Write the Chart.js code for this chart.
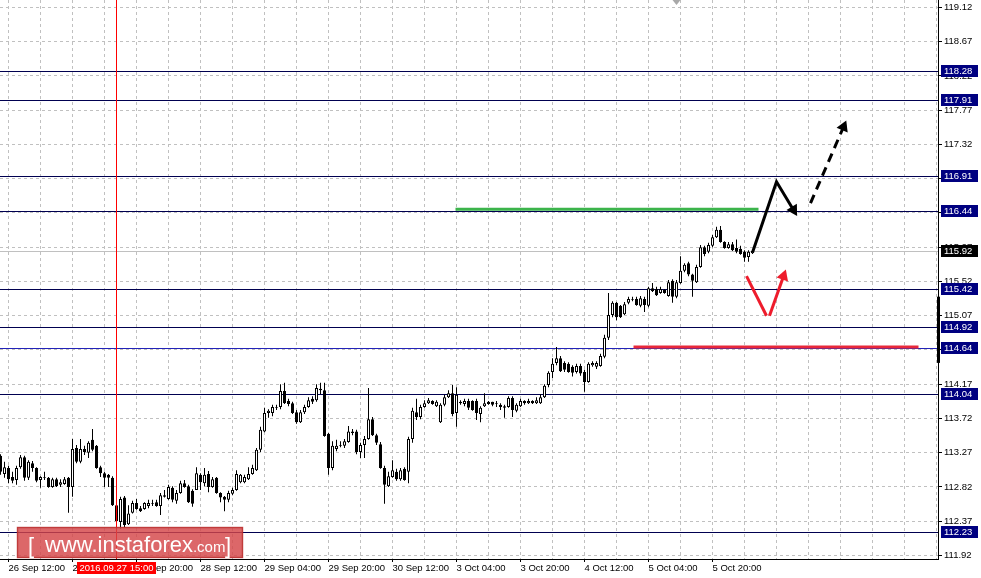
<!DOCTYPE html>
<html>
<head>
<meta charset="utf-8">
<script src="https://cdn.jsdelivr.net/npm/chart.js@4.4.1/dist/chart.umd.min.js"></script>
<style>
  html, body { margin: 0; padding: 0; background: #fff; }
  #wrap { width: 981px; height: 578px; position: relative; }
</style>
</head>
<body>
<div id="wrap"><canvas id="chart" width="981" height="578"></canvas></div>
<script>
// USD/JPY H1, 26 Sep - 5 Oct 2016. index 0 = 26 Sep 12:00, one step = one hour bar
const firstIdx = -2;
const opens = [
  113.23, 112.99, 113.07, 112.95, 112.91, 113.08, 113.21, 112.94, 113.13, 113.07, 112.91, 112.94,
  112.94, 112.82, 112.92, 112.85, 112.86, 112.94, 112.82, 113.33, 113.15, 113.32,
  113.27, 113.44, 113.36, 113.08, 113.00, 112.98, 112.94, 112.58, 112.36, 112.68,
  112.33, 112.48, 112.61, 112.54, 112.53, 112.57, 112.61, 112.62, 112.57, 112.69,
  112.66, 112.81, 112.64, 112.74, 112.87, 112.83, 112.77, 112.78, 112.98, 112.87,
  112.99, 112.82, 112.94, 112.74, 112.69, 112.65, 112.73, 112.78, 112.88, 112.88,
  112.92, 112.99, 113.04, 113.31, 113.55, 113.79, 113.79, 113.87, 113.87, 114.08,
  113.95, 113.92, 113.80, 113.67, 113.80, 113.87, 113.98, 113.96, 114.11, 114.09,
  113.52, 113.07, 113.32, 113.37, 113.36, 113.41, 113.55, 113.55, 113.28, 113.37,
  113.45, 113.71, 113.50, 113.38, 113.07, 112.83, 112.95, 113.02, 112.92, 113.06,
  113.02, 113.45, 113.80, 113.74, 113.87, 113.92, 113.95, 113.88, 113.67, 113.90,
  114.00, 114.05, 113.79, 113.94, 113.91, 113.95, 113.95, 113.95, 113.78, 113.88,
  113.94, 113.94, 113.91, 113.90, 113.88, 113.87, 113.99, 113.82, 113.88, 113.95,
  113.92, 113.95, 113.92, 113.92, 114.00, 114.16, 114.33, 114.45, 114.51, 114.45,
  114.44, 114.40, 114.33, 114.41, 114.33, 114.20, 114.42, 114.40, 114.41, 114.53,
  114.78, 115.08, 115.24, 115.20, 115.09, 115.24, 115.29, 115.29, 115.20, 115.29,
  115.20, 115.43, 115.42, 115.37, 115.41, 115.33, 115.53, 115.32, 115.50, 115.66,
  115.76, 115.61, 115.51, 115.71, 115.97, 115.91, 115.99, 116.10, 116.20, 116.04,
  115.96, 116.01, 115.96, 115.95, 115.91, 115.84, 115.89
];
const highs = [
  113.25, 113.15, 113.10, 113.02, 113.10, 113.24, 113.23, 113.17, 113.16, 113.08, 112.96, 113.02,
  112.95, 112.94, 112.94, 112.92, 112.95, 112.95, 113.45, 113.37, 113.45, 113.36,
  113.42, 113.58, 113.37, 113.10, 113.02, 112.99, 112.96, 112.61, 112.69, 112.70,
  112.58, 112.64, 112.66, 112.57, 112.62, 112.65, 112.65, 112.65, 112.74, 112.78,
  112.85, 112.83, 112.78, 112.90, 112.91, 112.85, 112.79, 113.08, 113.00, 113.07,
  113.03, 112.95, 112.95, 112.75, 112.70, 112.77, 112.81, 113.04, 112.99, 112.98,
  113.08, 113.11, 113.33, 113.61, 113.86, 113.84, 113.90, 113.90, 114.17, 114.19,
  113.98, 113.94, 113.83, 113.83, 113.90, 114.00, 114.01, 114.17, 114.19, 114.19,
  113.53, 113.42, 113.44, 113.42, 113.45, 113.62, 113.58, 113.57, 113.40, 113.49,
  114.12, 113.74, 113.52, 113.41, 113.10, 113.02, 113.17, 113.06, 113.07, 113.08,
  113.48, 113.86, 113.98, 113.90, 113.96, 113.99, 113.96, 113.96, 113.92, 114.03,
  114.09, 114.16, 114.13, 113.96, 113.98, 113.98, 113.96, 113.98, 113.88, 114.05,
  113.95, 113.94, 113.95, 113.92, 113.90, 114.01, 114.01, 113.92, 113.98, 113.96,
  113.98, 113.96, 114.00, 114.04, 114.17, 114.34, 114.51, 114.66, 114.54, 114.47,
  114.46, 114.42, 114.44, 114.44, 114.36, 114.46, 114.47, 114.47, 114.57, 114.82,
  115.37, 115.26, 115.25, 115.21, 115.25, 115.32, 115.32, 115.32, 115.33, 115.32,
  115.45, 115.50, 115.45, 115.45, 115.42, 115.54, 115.55, 115.54, 115.85, 115.76,
  115.78, 115.62, 115.74, 116.00, 115.99, 116.03, 116.13, 116.24, 116.25, 116.05,
  116.04, 116.04, 116.07, 115.99, 115.93, 115.93, 115.93
];
const lows = [
  112.98, 112.94, 112.87, 112.87, 112.85, 113.06, 112.90, 112.91, 113.02, 112.88, 112.81, 112.91,
  112.81, 112.81, 112.82, 112.82, 112.85, 112.48, 112.69, 113.13, 113.13, 113.24,
  113.20, 113.29, 113.06, 112.95, 112.82, 112.82, 112.57, 112.35, 112.27, 112.29,
  112.32, 112.47, 112.52, 112.49, 112.52, 112.54, 112.57, 112.56, 112.45, 112.68,
  112.65, 112.62, 112.60, 112.73, 112.81, 112.61, 112.56, 112.78, 112.78, 112.83,
  112.75, 112.81, 112.73, 112.62, 112.50, 112.62, 112.71, 112.77, 112.87, 112.87,
  112.91, 112.98, 113.03, 113.28, 113.54, 113.73, 113.75, 113.83, 113.84, 113.91,
  113.88, 113.78, 113.65, 113.66, 113.78, 113.86, 113.91, 113.94, 114.04, 113.48,
  112.98, 113.04, 113.29, 113.34, 113.33, 113.40, 113.50, 113.25, 113.20, 113.20,
  113.44, 113.49, 113.37, 113.06, 112.60, 112.82, 112.94, 112.90, 112.90, 112.90,
  112.87, 113.40, 113.70, 113.71, 113.86, 113.91, 113.90, 113.87, 113.66, 113.88,
  113.99, 113.75, 113.61, 113.90, 113.88, 113.83, 113.82, 113.70, 113.67, 113.87,
  113.90, 113.88, 113.87, 113.83, 113.73, 113.86, 113.74, 113.80, 113.87, 113.90,
  113.91, 113.91, 113.91, 113.91, 113.99, 114.13, 114.25, 114.42, 114.33, 114.33,
  114.32, 114.27, 114.31, 114.28, 114.07, 114.19, 114.40, 114.37, 114.40, 114.51,
  114.75, 115.05, 115.01, 115.04, 115.08, 115.22, 115.26, 115.20, 115.18, 115.12,
  115.18, 115.38, 115.33, 115.36, 115.36, 115.32, 115.24, 115.30, 115.49, 115.64,
  115.59, 115.32, 115.50, 115.70, 115.85, 115.89, 115.97, 116.09, 116.03, 115.95,
  115.95, 115.92, 115.89, 115.87, 115.78, 115.78, 115.88
];
const closes = [
  113.02, 113.08, 112.92, 112.90, 113.07, 113.21, 112.94, 113.15, 113.07, 112.90, 112.95, 112.95,
  112.82, 112.92, 112.83, 112.88, 112.92, 112.82, 113.32, 113.15, 113.32, 113.28,
  113.40, 113.31, 113.07, 113.00, 112.94, 112.94, 112.58, 112.37, 112.66, 112.32,
  112.47, 112.61, 112.53, 112.50, 112.61, 112.61, 112.60, 112.57, 112.71, 112.71,
  112.82, 112.65, 112.74, 112.87, 112.82, 112.62, 112.60, 113.00, 112.88, 112.98,
  112.82, 112.92, 112.74, 112.68, 112.65, 112.74, 112.78, 112.99, 112.98, 112.95,
  112.99, 113.07, 113.31, 113.57, 113.79, 113.82, 113.87, 113.86, 114.08, 113.92,
  113.91, 113.79, 113.67, 113.80, 113.87, 113.96, 113.94, 114.12, 114.09, 113.49,
  113.07, 113.36, 113.36, 113.36, 113.42, 113.55, 113.53, 113.28, 113.37, 113.45,
  113.71, 113.50, 113.40, 113.07, 112.85, 112.96, 113.04, 112.92, 113.04, 112.91,
  113.45, 113.82, 113.74, 113.87, 113.92, 113.96, 113.91, 113.94, 113.90, 114.00,
  114.05, 113.78, 114.03, 113.92, 113.95, 113.86, 113.83, 113.79, 113.86, 113.92,
  113.91, 113.90, 113.92, 113.87, 113.86, 113.99, 113.83, 113.90, 113.95, 113.92,
  113.95, 113.92, 113.96, 114.00, 114.15, 114.32, 114.44, 114.51, 114.34, 114.36,
  114.33, 114.32, 114.41, 114.31, 114.20, 114.44, 114.45, 114.45, 114.54, 114.78,
  115.08, 115.24, 115.05, 115.05, 115.22, 115.29, 115.28, 115.21, 115.30, 115.21,
  115.43, 115.39, 115.34, 115.42, 115.37, 115.51, 115.32, 115.51, 115.66, 115.74,
  115.61, 115.53, 115.71, 115.97, 115.88, 116.00, 116.10, 116.20, 116.04, 115.96,
  116.01, 115.93, 115.91, 115.88, 115.83, 115.91, 115.92
];

const xTickIdx = [0, 16, 32, 48, 64, 80, 96, 112, 128, 144, 160, 176];
const xTickLabels = ['26 Sep 12:00', '27 Sep 04:00', '27 Sep 20:00', '28 Sep 12:00', '29 Sep 04:00', '29 Sep 20:00',
  '30 Sep 12:00', '3 Oct 04:00', '3 Oct 20:00', '4 Oct 12:00', '5 Oct 04:00', '5 Oct 20:00'];
const yTicks = [111.92, 112.37, 112.82, 113.27, 113.72, 114.17, 114.62, 115.07, 115.52, 115.97, 116.42, 116.87, 117.32, 117.77, 118.22, 118.67, 119.12];

const levels = [118.28, 117.91, 116.91, 116.44, 115.42, 114.92, 114.64, 114.04, 112.23];
const bidPrice = 115.92;
const crossIdx = 27;
const crossLabel = '2016.09.27 15:00';
const shiftIdx = 167;

// drawn analysis
const greenX = [111.75, 187.5], greenY = [116.47, 116.47];
const redX = [156.25, 227.5], redY = [114.66, 114.66];
const upX = [186, 192, 196.25], upY = [115.90, 116.83, 116.46];
const dashX = [200.5, 208.75], dashY = [116.55, 117.55];
const redDownX = [184.5, 189.5], redDownY = [115.59, 115.07];
const redUpX = [190.25, 193.75], redUpY = [115.07, 115.59];

// axis window
const xMin = -2.125, xMax = 232.375;
const yMin = 111.873, yMax = 119.2186;

const levelColors = ['#000050', '#000050', '#000050', '#000050', '#000050', '#000050', '#2323b8', '#000050', '#000050'];
const fontFam = '"Liberation Sans", Arial, sans-serif';
const font = { family: fontFam, size: 9.5 };

const idx = opens.map((_, k) => firstIdx + k);
const bodyColors = opens.map((o, k) => closes[k] >= o ? '#ffffff' : '#000000');

function arrowRotation(c) {
  const d = c.dataset.data, k = c.dataIndex;
  if (k === 0) return 0;
  const sx = c.chart.scales.x, sy = c.chart.scales.y;
  const dx = sx.getPixelForValue(d[k].x) - sx.getPixelForValue(d[k - 1].x);
  const dy = sy.getPixelForValue(d[k].y) - sy.getPixelForValue(d[k - 1].y);
  return Math.atan2(dx, -dy) * 180 / Math.PI;
}

function pathSet(xs, ys, color, width, dash, head) {
  return {
    type: 'line',
    data: xs.map((x, k) => ({ x: x, y: ys[k] })),
    borderColor: color,
    borderWidth: width,
    borderDash: dash,
    borderCapStyle: 'butt',
    pointRadius: xs.map((_, k) => head && k === xs.length - 1 ? 7 : 0),
    pointStyle: 'triangle',
    rotation: arrowRotation,
    pointBackgroundColor: color,
    pointBorderColor: color,
    pointBorderWidth: 0,
    tension: 0,
    fill: false,
    order: 0
  };
}

function hline(ctx, x1, x2, y) {
  ctx.beginPath();
  ctx.moveTo(x1, y);
  ctx.lineTo(x2, y);
  ctx.stroke();
}

const mtDecor = {
  id: 'mtDecor',
  beforeDatasetsDraw(chart) {
    const { ctx, chartArea: a, scales: { y } } = chart;
    ctx.save();
    ctx.lineWidth = 1;
    ctx.strokeStyle = '#c0c0c0';
    hline(ctx, a.left, a.right, Math.round(y.getPixelForValue(bidPrice)) + 0.5);
    levels.forEach((v, k) => {
      ctx.strokeStyle = levelColors[k];
      hline(ctx, a.left, a.right, Math.round(y.getPixelForValue(v)) + 0.5);
    });
    ctx.restore();
  },
  afterDraw(chart) {
    const { ctx, chartArea: a, scales: { x, y } } = chart;
    ctx.save();
    ctx.setLineDash([]);
    ctx.globalAlpha = 1;

    // crosshair (vertical line at 27 Sep 15:00)
    const cx = Math.floor(x.getPixelForValue(crossIdx));
    ctx.fillStyle = '#ff0000';
    ctx.fillRect(cx, a.top, 1, a.bottom - a.top);

    // shift marker at top
    const sx = x.getPixelForValue(shiftIdx);
    ctx.fillStyle = '#a8a8a8';
    ctx.beginPath();
    ctx.moveTo(sx - 4, a.top);
    ctx.lineTo(sx + 4, a.top);
    ctx.lineTo(sx, a.top + 5);
    ctx.closePath();
    ctx.fill();

    ctx.font = '9.5px ' + fontFam;
    ctx.textBaseline = 'middle';
    ctx.textAlign = 'left';

    // price boxes on the right scale
    const boxes = levels.map(v => [v, '#000080']).concat([[bidPrice, '#000000']]);
    boxes.forEach(([v, bg]) => {
      const py = Math.round(y.getPixelForValue(v));
      ctx.fillStyle = bg;
      ctx.fillRect(a.right + 3, py - 6, 37, 12);
      ctx.fillStyle = '#ffffff';
      ctx.fillText(v.toFixed(2), a.right + 6, py + 0.5);
    });

    // thick mark on the scale
    ctx.fillStyle = '#000000';
    const t1 = y.getPixelForValue(115.32), t2 = y.getPixelForValue(114.45);
    ctx.fillRect(a.right - 1, t1, 3, t2 - t1);

    // crosshair time label
    ctx.fillStyle = '#ff0000';
    ctx.fillRect(cx - 39, a.bottom + 3, 79, 12);
    ctx.fillStyle = '#ffffff';
    ctx.textAlign = 'center';
    ctx.fillText(crossLabel, cx + 0.5, a.bottom + 9.5);

    // watermark
    ctx.fillStyle = 'rgba(212,70,72,0.82)';
    ctx.fillRect(17, 527, 226, 31);
    ctx.strokeStyle = 'rgba(180,40,40,0.7)';
    ctx.lineWidth = 1.5;
    ctx.strokeRect(17.5, 527.5, 225, 30);
    ctx.fillStyle = '#ffffff';
    ctx.textBaseline = 'alphabetic';
    ctx.textAlign = 'left';
    ctx.font = '22px ' + fontFam;
    ctx.fillText('[', 28, 553);
    ctx.fillText('www.instaforex', 45, 552);
    const w = ctx.measureText('www.instaforex').width;
    ctx.font = '15px ' + fontFam;
    ctx.fillText('.com', 45 + w, 552);
    ctx.font = '22px ' + fontFam;
    ctx.fillText(']', 225, 553);
    ctx.restore();
  }
};

const datasets = [
  {
    type: 'bar',
    data: idx.map((v, k) => ({ x: v, y: [opens[k], closes[k]] })),
    backgroundColor: bodyColors,
    borderColor: '#000000',
    borderWidth: 1,
    borderSkipped: false,
    barThickness: 3,
    inflateAmount: 0,
    grouped: false,
    order: 1
  },
  {
    type: 'bar',
    data: idx.map((v, k) => ({ x: v, y: [lows[k], highs[k]] })),
    backgroundColor: '#000000',
    borderWidth: 0,
    barThickness: 1,
    inflateAmount: 0,
    grouped: false,
    order: 2
  },
  pathSet(greenX, greenY, '#3cb44b', 3, [], false),
  pathSet(redX, redY, '#e8283a', 3, [], false),
  pathSet(upX, upY, '#000000', 3, [], true),
  pathSet(dashX, dashY, '#000000', 3, [9, 6], true),
  pathSet(redDownX, redDownY, '#ee1c2c', 3, [], false),
  pathSet(redUpX, redUpY, '#ee1c2c', 3, [], true)
];

new Chart(document.getElementById('chart'), {
  type: 'bar',
  data: { datasets: datasets },
  plugins: [mtDecor],
  options: {
    responsive: false,
    animation: false,
    events: [],
    layout: { padding: 0, autoPadding: false },
    plugins: { legend: { display: false }, tooltip: { enabled: false } },
    scales: {
      x: {
        type: 'linear',
        min: xMin,
        max: xMax,
        offset: false,
        afterBuildTicks: s => {
          const t = [];
          for (let v = 0; v <= 232; v += 8) t.push({ value: v });
          s.ticks = t;
        },
        afterFit: s => { s.height = 19; s.paddingLeft = 0; s.paddingRight = 0; },
        grid: {
          color: '#c0c0c0',
          lineWidth: 1,
          offset: false,
          drawTicks: true,
          tickLength: 3,
          tickWidth: 1,
          tickColor: c => (c.tick && xTickIdx.includes(c.tick.value)) ? '#000000' : 'rgba(0,0,0,0)'
        },
        border: { display: true, color: '#000000', width: 1, dash: [3, 3] },
        ticks: {
          autoSkip: false,
          maxRotation: 0,
          minRotation: 0,
          align: 'start',
          padding: 1,
          color: '#000000',
          font: font,
          callback: v => {
            const k = xTickIdx.indexOf(v);
            return k >= 0 ? xTickLabels[k] : '';
          }
        }
      },
      y: {
        position: 'right',
        min: yMin,
        max: yMax,
        afterBuildTicks: s => { s.ticks = yTicks.map(v => ({ value: v })); },
        afterFit: s => { s.width = 43; s.paddingTop = 0; s.paddingBottom = 0; },
        grid: { color: '#c0c0c0', lineWidth: 1, drawTicks: true, tickLength: 4, tickColor: '#000000' },
        border: { display: true, color: '#000000', width: 1, dash: [3, 3] },
        ticks: { padding: 2, color: '#000000', font: font, callback: v => v.toFixed(2) }
      }
    }
  }
});
</script>
</body>
</html>
